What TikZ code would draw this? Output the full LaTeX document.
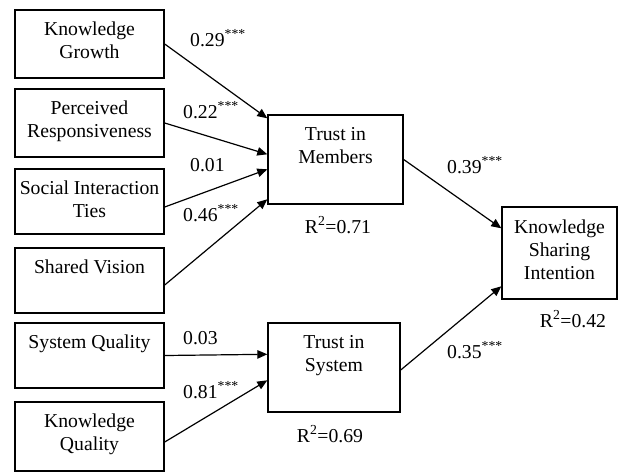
\documentclass[tikz,border=0pt]{standalone}
\usepackage{fontspec}
\setmainfont{Liberation Serif}
\usetikzlibrary{arrows.meta,calc}
\begin{document}
\begin{tikzpicture}[x=1pt,y=-1pt,
 box/.style={draw,line width=1.4pt,rectangle,inner sep=0pt},
 lbl/.style={font=\fontsize{19.7}{23}\selectfont,align=center,inner sep=0pt,anchor=north},
 coef/.style={font=\fontsize{19.7}{23}\selectfont,inner sep=0pt,anchor=west},
 rsq/.style={font=\fontsize{19.7}{23}\selectfont,inner sep=0pt},
 arr/.style={line width=1.2pt,-{Triangle[length=10pt,width=8.5pt]}}]
\useasboundingbox (0,0) rectangle (618,472);
% boxes
\node[box,minimum width=149pt,minimum height=68pt] (kg) at (89.5,44) {};
\node[box,minimum width=149pt,minimum height=68pt] (pr) at (89.5,123) {};
\node[box,minimum width=149pt,minimum height=65pt] (sit) at (89.5,201.5) {};
\node[box,minimum width=149pt,minimum height=65pt] (sv) at (89.5,280.5) {};
\node[box,minimum width=149pt,minimum height=65pt] (sq) at (89.5,355.5) {};
\node[box,minimum width=149pt,minimum height=69pt] (kq) at (89.5,436.5) {};
\node[box,minimum width=135pt,minimum height=89pt] (tm) at (335.5,159.5) {};
\node[box,minimum width=132pt,minimum height=89pt] (ts) at (334,367.5) {};
\node[box,minimum width=115pt,minimum height=92pt] (ksi) at (559.5,253) {};
% box texts
\node[lbl] (tkg) at ($(kg.north)+(0,12)$) {Knowledge\\Growth};
\node[lbl] (tpr) at ($(pr.north)+(0,12)$) {Perceived\\Responsiveness};
\node[lbl] (tsit) at ($(sit.north)+(0,12)$) {Social Interaction\\Ties};
\node[lbl] (tsv) at ($(sv.north)+(0,12)$) {Shared Vision};
\node[lbl] (tsq) at ($(sq.north)+(0,12)$) {System Quality};
\node[lbl] (tkq) at ($(kq.north)+(0,12)$) {Knowledge\\Quality};
\node[lbl] (ttm) at ($(tm.north)+(0,13)$) {Trust in\\Members};
\node[lbl] (tts) at ($(ts.north)+(0,13)$) {Trust in\\System};
\node[lbl] (tksi) at ($(ksi.north)+(0,13)$) {Knowledge\\Sharing\\Intention};
% arrows
\draw[arr] (kg.east) -- ($(tm.north west)+(0,4)$);
\draw[arr] (pr.east) -- ($(tm.north west)+(0,40)$);
\draw[arr] ($(sit.east)+(0,5.5)$) -- ($(tm.north west)+(0,55)$);
\draw[arr] ($(sv.east)+(0,4.5)$) -- ($(tm.north west)+(0,85)$);
\draw[arr] (sq.east) -- ($(ts.north west)+(0,32)$);
\draw[arr] ($(kq.east)+(0,5.5)$) -- ($(ts.north west)+(0,58)$);
\draw[arr] (tm.east) -- ($(ksi.north west)+(0,22)$);
\draw[arr] ($(ts.east)+(0,2.5)$) -- ($(ksi.north west)+(0,80)$);
% coefficients
\node[coef] (c1) at (190,38) {0.29\textsuperscript{***}};
\node[coef] (c2) at (183,110) {0.22\textsuperscript{***}};
\node[coef] (c3) at (190,165) {0.01};
\node[coef] (c4) at (183,213) {0.46\textsuperscript{***}};
\node[coef] (c5) at (183,338) {0.03};
\node[coef] (c6) at (183,390) {0.81\textsuperscript{***}};
\node[coef] (c7) at (447,165) {0.39\textsuperscript{***}};
\node[coef] (c8) at (447,350) {0.35\textsuperscript{***}};
% R squared
\node[rsq] (r1) at (338,225) {R\textsuperscript{2}=0.71};
\node[rsq] (r2) at (330,434) {R\textsuperscript{2}=0.69};
\node[rsq] (r3) at (573,319) {R\textsuperscript{2}=0.42};
\end{tikzpicture}
\end{document}
